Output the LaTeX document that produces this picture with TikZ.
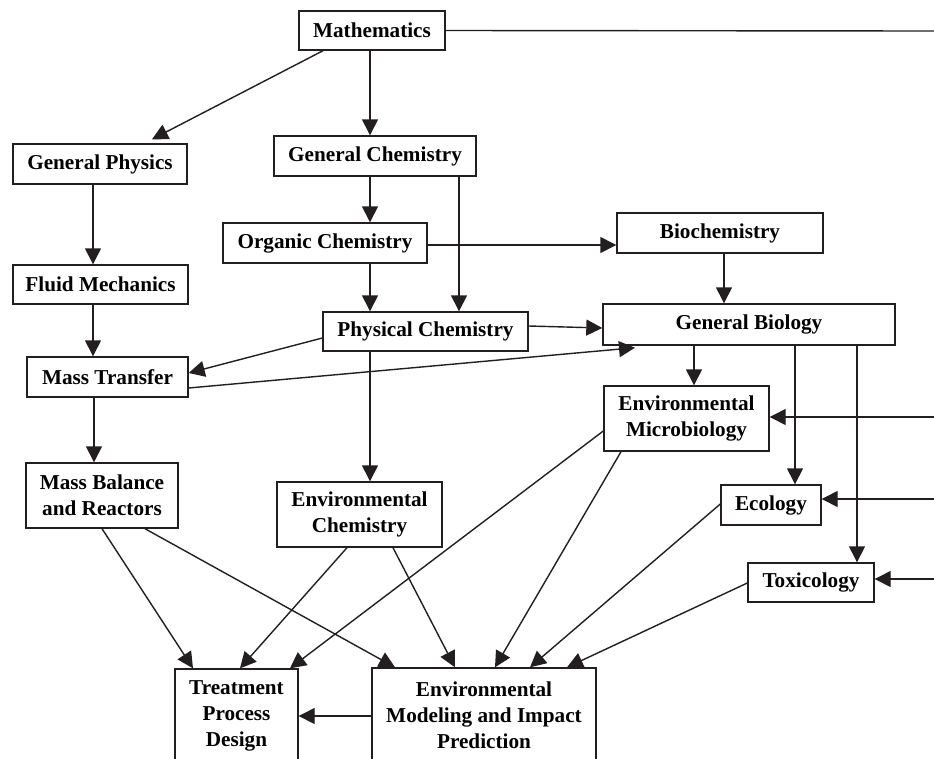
\documentclass[tikz,border=0pt]{standalone}
\usepackage{fontspec}
\setmainfont{Liberation Serif}
\usetikzlibrary{arrows.meta,calc}
\definecolor{ink}{RGB}{35,31,32}
\begin{document}
\begin{tikzpicture}[x=1pt,y=-1pt,
  box/.style={draw=ink,line width=1.4pt,fill=white,inner sep=0pt,align=center,
    font=\fontsize{21.2}{26}\selectfont\bfseries,text=black},
  conn/.style={draw=ink,line width=1.4pt},
  arr/.style={conn,-{Triangle[length=16pt,width=16pt]}}]
\useasboundingbox (0,0) rectangle (934,758);
\clip (0,0) rectangle (934,758);
\fill[white] (0,0) rectangle (934,758);
% nodes
\node[box,minimum width=146pt,minimum height=39pt] (math) at (372,30.5) {Mathematics};
\node[box,minimum width=174pt,minimum height=40pt] (phys) at (100,164) {General Physics};
\node[box,minimum width=202pt,minimum height=40pt] (gchem) at (375,156) {General Chemistry};
\node[box,minimum width=204pt,minimum height=40pt] (org) at (325,243) {Organic Chemistry};
\node[box,minimum width=206pt,minimum height=40pt] (biochem) at (720,233) {Biochemistry};
\node[box,minimum width=175pt,minimum height=39pt] (fluid) at (100.5,284.5) {Fluid Mechanics};
\node[box,minimum width=205pt,minimum height=39pt] (pchem) at (425.5,331.5) {Physical Chemistry};
\node[box,minimum width=292pt,minimum height=41pt] (gbio) at (749,324.5) {General Biology};
\node[box,minimum width=161pt,minimum height=40pt] (mt) at (107.5,377) {Mass Transfer};
\node[box,minimum width=165pt,minimum height=65pt] (micro) at (686.5,418.5) {Environmental\\Microbiology};
\node[box,minimum width=152pt,minimum height=65pt] (mb) at (102,495.5) {Mass Balance\\and Reactors};
\node[box,minimum width=165pt,minimum height=65pt] (echem) at (359.5,514.5) {Environmental\\Chemistry};
\node[box,minimum width=100pt,minimum height=40pt] (eco) at (771,505) {Ecology};
\node[box,minimum width=126pt,minimum height=39pt] (tox) at (811,582.5) {Toxicology};
\node[box,minimum width=123pt,minimum height=94pt] (tpd) at (236.5,716) {Treatment\\Process\\Design};
\node[box,minimum width=224pt,minimum height=95pt] (emip) at (484,715.5) {Environmental\\Modeling and Impact\\Prediction};
% right edge coordinates
\coordinate (rtop) at (934,31);
\coordinate (rmic) at (934,417);
\coordinate (reco) at (934,499);
\coordinate (rtox) at (934,579);
% connectors
\draw[arr] ($(math.south)+(-49,0)$) -- ($(phys.north)+(52,-4)$);
\draw[arr] ($(math.south)+(-2,0)$) -- ($(gchem.north)+(-5,0)$);
\draw[conn] (math.east) -- (rtop);
\draw[arr] (rmic) -- ($(micro.east)+(0,-1.5)$);
\draw[arr] (reco) -- ($(eco.east)+(0,-6)$);
\draw[arr] (rtox) -- ($(tox.east)+(0,-3.5)$);
\draw[arr] ($(phys.south)+(-7,0)$) -- ($(fluid.north)+(-7.5,0)$);
\draw[arr] ($(fluid.south)+(-7.5,0)$) -- ($(mt.north)+(-14.5,0)$);
\draw[arr] ($(mt.south)+(-13.5,0)$) -- ($(mb.north)+(-8,0)$);
\draw[arr] ($(gchem.south)+(-5,0)$) -- ($(org.north)+(45,0)$);
\draw[arr] ($(gchem.south)+(84,0)$) -- ($(pchem.north)+(33.5,0)$);
\draw[arr] ($(org.south)+(45,0)$) -- ($(pchem.north)+(-55.5,0)$);
\draw[arr] ($(org.east)+(0,2)$) -- ($(biochem.west)+(0,12)$);
\draw[arr] ($(biochem.south)+(4,0)$) -- ($(gbio.north)+(-25,0)$);
\draw[arr] ($(pchem.east)+(0,-5.5)$) -- ($(gbio.west)+(0,3.5)$);
\draw[arr] ($(pchem.west)+(0,6.5)$) -- ($(mt.east)+(0,-4)$);
\draw[arr] ($(mt.east)+(0,11)$) -- ($(gbio.south)+(-114,2)$);
\draw[arr] ($(gbio.south)+(-55,0)$) -- ($(micro.north)+(7.5,0)$);
\draw[arr] ($(gbio.south)+(46,0)$) -- ($(eco.north)+(24,0)$);
\draw[arr] ($(gbio.south)+(108,0)$) -- ($(tox.north)+(46,0)$);
\draw[arr] ($(pchem.south)+(-55.5,0)$) -- ($(echem.north)+(10.5,0)$);
\draw[arr] (mb.south) -- ($(tpd.north)+(-43.5,0)$);
\draw[arr] ($(mb.south)+(43,0)$) -- ($(emip.north)+(-89,0)$);
\draw[arr] ($(echem.south)+(-12.5,0)$) -- ($(tpd.north)+(3.5,0)$);
\draw[arr] ($(echem.south)+(33.5,0)$) -- ($(emip.north)+(-29,0)$);
\draw[arr] ($(micro.west)+(0,12.5)$) -- ($(tpd.north)+(53.5,0)$);
\draw[arr] ($(micro.south)+(-65.5,0)$) -- ($(emip.north)+(11,0)$);
\draw[arr] ($(eco.west)+(0,-1)$) -- ($(emip.north)+(46,0)$);
\draw[arr] ($(tox.west)+(0,0.5)$) -- ($(emip.north)+(83,0)$);
\draw[arr] ($(emip.west)+(0,0.5)$) -- (tpd.east);
\end{tikzpicture}
\end{document}
